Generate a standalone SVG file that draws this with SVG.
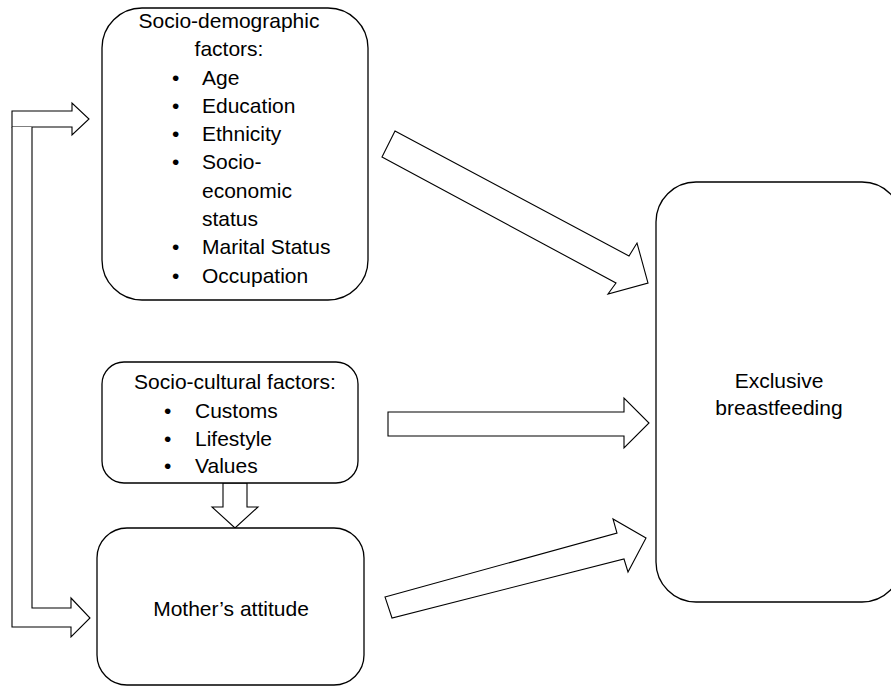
<svg xmlns="http://www.w3.org/2000/svg" width="891" height="686" viewBox="0 0 891 686">
<style>
.box{fill:#fff;stroke:#000;stroke-width:1.3}
.arr{fill:#fff;stroke:#000;stroke-width:1.1;stroke-linejoin:miter}
text{font-family:"Liberation Sans",Arial,sans-serif;font-size:21px;fill:#000}
.c{text-anchor:middle}
</style>
<rect width="891" height="686" fill="#fff"/>
<g id="connectors">
<path class="arr" d="M12,111 L72,111 L72,103 L89,119 L72,135 L72,127 L12,127 Z"/>
<path class="arr" d="M12,127 L12,627 L71,627 L71,637 L90,618 L71,598 L71,608 L32,608 L32,127"/>
<polygon class="arr" points="395,131 629,256 637,243 648,283 608,294 616,283 382,157"/>
<polygon class="arr" points="388,412 624,412 624,398 649,423 624,448 624,436 388,436"/>
<polygon class="arr" points="385,597 617,533 613,519 646,538 628,572 624,559 392,618"/>
<polygon class="arr" points="223,483 247,483 247,507 258,507 235,528 212,507 223,507"/>
</g>
<g id="socio-demographic">
<rect class="box" x="102" y="8" width="266" height="292" rx="40" ry="40"/>
<text class="c" x="229" y="28">Socio-demographic</text>
<text class="c" x="229" y="56">factors:</text>
<text x="172" y="85">•</text><text x="202" y="85">Age</text>
<text x="172" y="113">•</text><text x="202" y="113">Education</text>
<text x="172" y="141">•</text><text x="202" y="141">Ethnicity</text>
<text x="172" y="169">•</text><text x="202" y="169">Socio-</text>
<text x="202" y="198">economic</text>
<text x="202" y="226">status</text>
<text x="172" y="254">•</text><text x="202" y="254">Marital Status</text>
<text x="172" y="283">•</text><text x="202" y="283">Occupation</text>
</g>
<g id="socio-cultural">
<rect class="box" x="102" y="362" width="256" height="121" rx="22" ry="22"/>
<text class="c" x="235" y="389">Socio-cultural factors:</text>
<text x="164" y="418">•</text><text x="195" y="418">Customs</text>
<text x="164" y="446">•</text><text x="195" y="446">Lifestyle</text>
<text x="164" y="473">•</text><text x="195" y="473">Values</text>
</g>
<g id="mothers-attitude">
<rect class="box" x="97" y="528" width="267" height="157" rx="30" ry="30"/>
<text class="c" x="231" y="616">Mother’s attitude</text>
</g>
<g id="exclusive-breastfeeding">
<rect class="box" x="656" y="182" width="246" height="420" rx="40" ry="40"/>
<text class="c" x="779" y="388">Exclusive</text>
<text class="c" x="779" y="415">breastfeeding</text>
</g>
</svg>
